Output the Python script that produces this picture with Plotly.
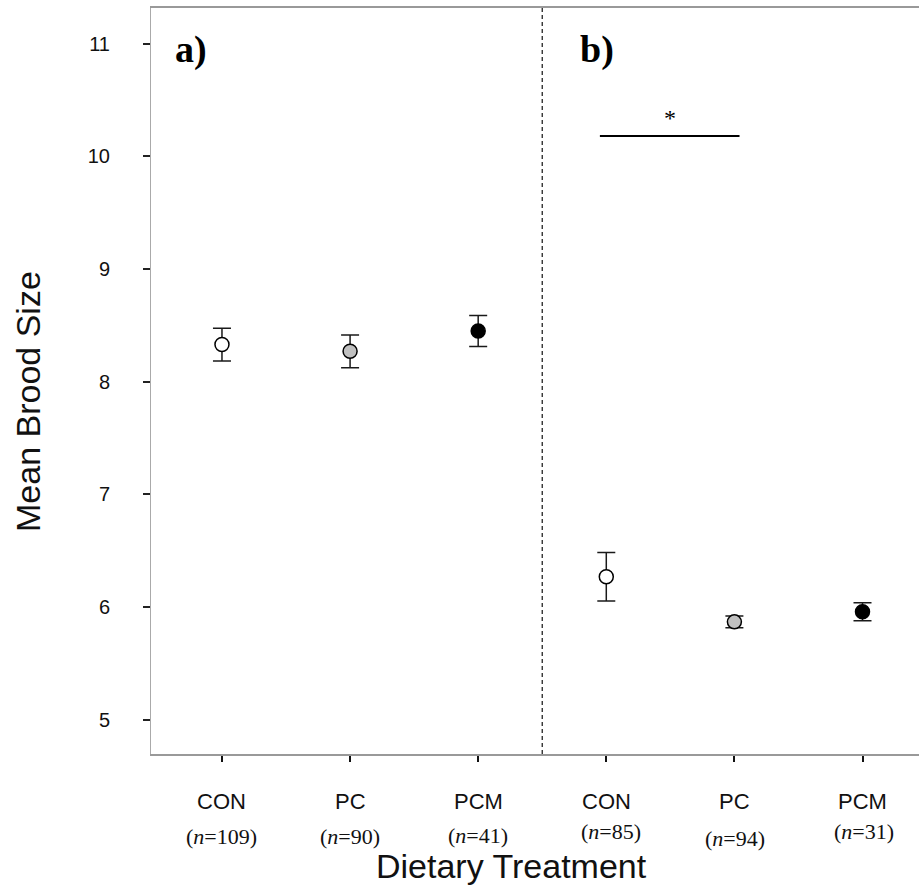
import plotly.graph_objects as go

# Mean brood size (+/- SE) by dietary treatment, two panels
treatments = ["CON", "PC", "PCM"]
n_a = [109, 90, 41]
mean_a = [8.33, 8.27, 8.45]
se_a = [0.145, 0.145, 0.138]
n_b = [85, 94, 31]
mean_b = [6.27, 5.87, 5.96]
se_b = [0.215, 0.052, 0.08]
panel_labels = ["a)", "b)"]
y_ticks = [5, 6, 7, 8, 9, 10, 11]
sig_pair = (0, 1)  # CON vs PC in panel b
sig_level = 10.18

fills = ["white", "#c0c0c0", "black"]
SANS = "Liberation Sans, Arial, Helvetica, sans-serif"
SERIF = "Liberation Serif, Times New Roman, serif"

xa = [1, 2, 3]
xb = [4, 5, 6]

fig = go.Figure()
for xs, means, ses in [(xa, mean_a, se_a), (xb, mean_b, se_b)]:
    for x, m, s, c in zip(xs, means, ses, fills):
        fig.add_trace(go.Scatter(
            x=[x], y=[m], mode="markers",
            marker=dict(size=14, color=c, line=dict(color="black", width=1.5)),
            error_y=dict(type="data", array=[s], visible=True,
                         color="#1a1a1a", thickness=1.5, width=9),
            showlegend=False, hoverinfo="skip",
        ))

fig.update_layout(
    width=919, height=888,
    margin=dict(l=151, r=0, t=8, b=134),
    plot_bgcolor="white", paper_bgcolor="white",
    showlegend=False,
)

fig.update_xaxes(
    range=[0.446, 6.441], tickmode="array", tickvals=xa + xb,
    showticklabels=False, ticks="outside", ticklen=6, tickwidth=1.5,
    tickcolor="#111", showline=True, linecolor="#999", linewidth=1.5,
    mirror=True, showgrid=False, zeroline=False,
)
fig.update_yaxes(
    range=[4.698, 11.315], tickmode="array", tickvals=y_ticks,
    ticks="outside", ticklen=7, tickwidth=1.5, tickcolor="#222",
    ticklabelstandoff=29,
    tickfont=dict(family=SANS, size=20, color="#111"),
    showline=True, linecolor="#aaa", linewidth=1, mirror=False,
    showgrid=False, zeroline=False,
)

# Divider between the two panels
fig.add_shape(type="line", xref="x", yref="paper", x0=3.5, x1=3.5, y0=0, y1=1,
              line=dict(color="#222", width=1.3, dash="4px,3px"))

# Significance bar with asterisk
x0 = xb[sig_pair[0]] - 0.05
x1 = xb[sig_pair[1]] + 0.04
fig.add_shape(type="line", xref="x", yref="y", x0=x0, x1=x1,
              y0=sig_level, y1=sig_level, line=dict(color="black", width=2))
fig.add_annotation(x=(xb[sig_pair[0]] + xb[sig_pair[1]]) / 2, y=sig_level,
                   xref="x", yref="y", text="*", showarrow=False,
                   yanchor="bottom", yshift=3,
                   font=dict(family=SERIF, size=24, color="black"))

# Panel letters
for lbl, px in zip(panel_labels, [0.0286, 0.556]):
    fig.add_annotation(x=px, y=0.9437, xref="paper", yref="paper",
                       text=f"<b>{lbl}</b>", showarrow=False,
                       xanchor="left", yanchor="middle",
                       font=dict(family=SERIF, size=38, color="black"))

# Category labels with sample sizes
n_label_shift = {109: (0, -82), 90: (0, -82), 41: (0, -81),
                 85: (5, -77), 94: (1, -84), 31: (1, -77)}
for xs, ns in [(xa, n_a), (xb, n_b)]:
    for x, t, n in zip(xs, treatments, ns):
        fig.add_annotation(x=x, y=0, xref="x", yref="paper", text=t,
                           showarrow=False, yanchor="middle", yshift=-47,
                           font=dict(family=SANS, size=22, color="#111"))
        dx, dy = n_label_shift[n]
        fig.add_annotation(x=x, y=0, xref="x", yref="paper",
                           text=f"(<i>n</i>={n})", showarrow=False,
                           yanchor="middle", xshift=dx, yshift=dy,
                           font=dict(family=SERIF, size=22, color="#111"))

# Axis titles
fig.add_annotation(x=(511 - 151) / 768, y=0, xref="paper", yref="paper",
                   text="Dietary Treatment", showarrow=False,
                   yanchor="middle", yshift=-112,
                   font=dict(family=SANS, size=34, color="#111"))
fig.add_annotation(x=0, y=1 - (402 - 8) / 746, xref="paper", yref="paper",
                   text="Mean Brood Size", showarrow=False, textangle=-90,
                   xanchor="center", xshift=-123,
                   font=dict(family=SANS, size=34, color="#111"))

fig.write_html("out.html")
